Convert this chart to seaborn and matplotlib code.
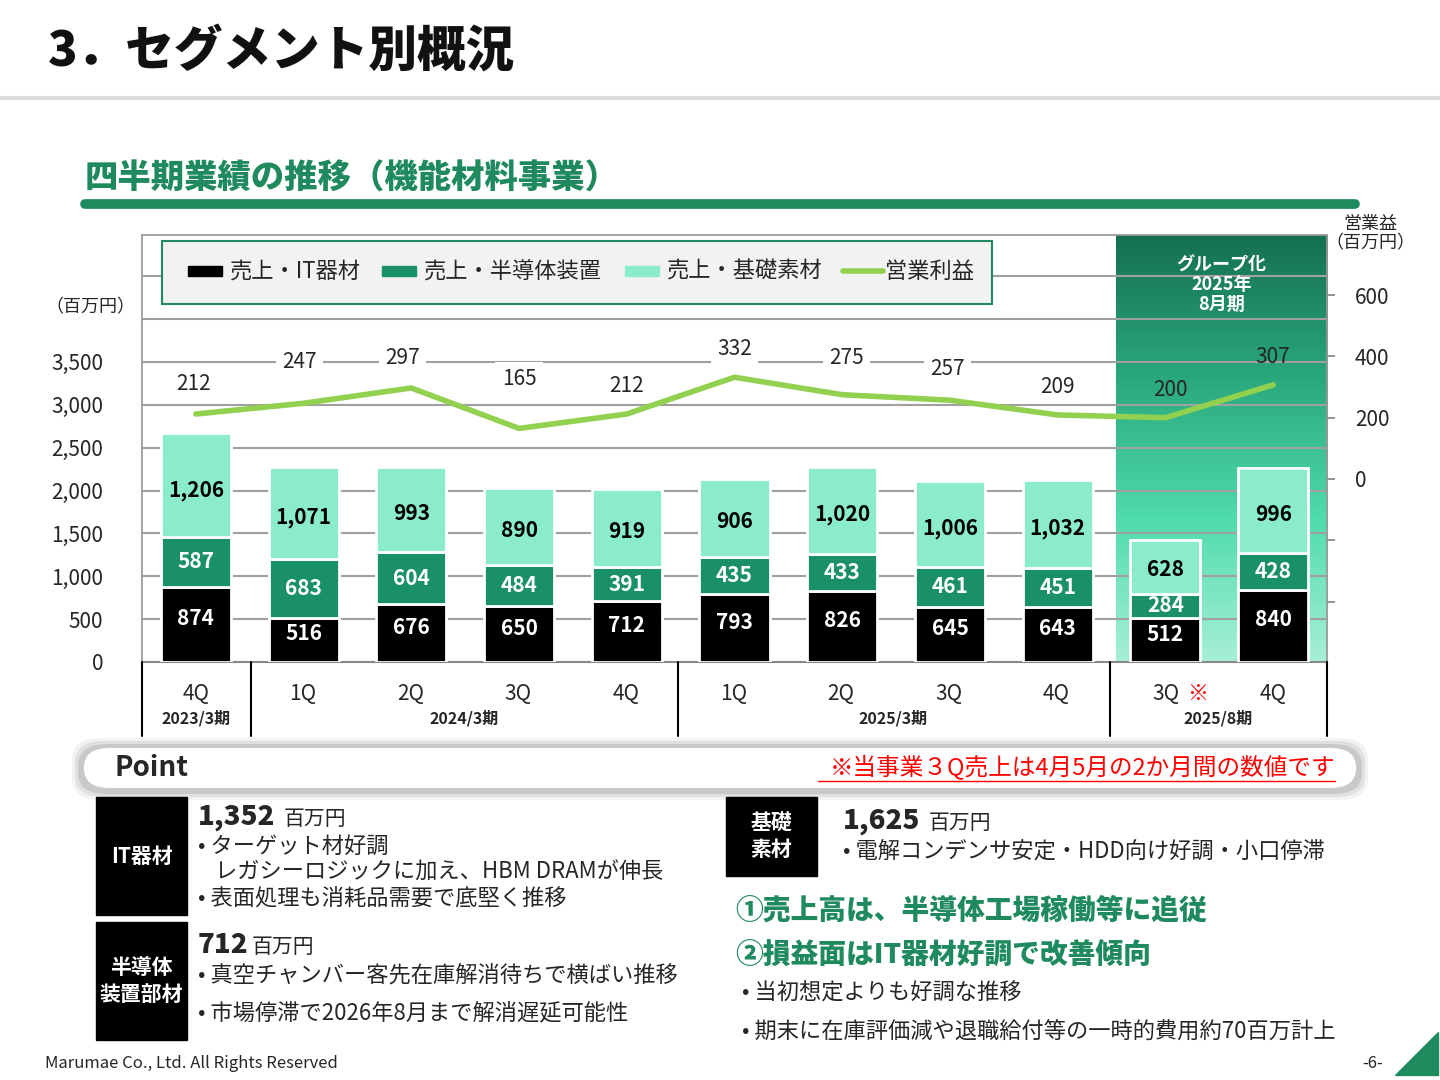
import matplotlib
matplotlib.use("Agg")
import matplotlib.pyplot as plt
import seaborn as sns
import numpy as np
import pandas as pd
from matplotlib.patches import FancyBboxPatch, Rectangle, Polygon
from matplotlib.lines import Line2D
from matplotlib.colors import LinearSegmentedColormap

sns.set_theme(style="white")
plt.rcParams['font.family'] = ['Noto Sans CJK JP', 'DejaVu Sans']

quarters = ["4Q", "1Q", "2Q", "3Q", "4Q", "1Q", "2Q", "3Q", "4Q", "3Q", "4Q"]
it_sales = [874, 516, 676, 650, 712, 793, 826, 645, 643, 512, 840]
semi_sales = [587, 683, 604, 484, 391, 435, 433, 461, 451, 284, 428]
base_sales = [1206, 1071, 993, 890, 919, 906, 1020, 1006, 1032, 628, 996]
op_profit = [212, 247, 297, 165, 212, 332, 275, 257, 209, 200, 307]
periods = ["2023/3期", "2024/3期", "2025/3期", "2025/8期"]

C_IT = "#000000"
C_SEMI = "#1a9068"
C_BASE = "#8aecca"
C_LINE = "#92d050"
DG = "#1f8a5e"

fig = plt.figure(figsize=(14.4, 10.8), dpi=100)
W, H = 1440, 1080
def fx(x): return x / W
def fy(y): return 1 - y / H

fig.add_artist(Line2D([0, 1], [fy(98), fy(98)], color="#dddddd", lw=3))
fig.text(fx(48), fy(52), "3．セグメント別概況", fontsize=35, fontweight="heavy", va="center", color="#111111")
fig.text(fx(85), fy(178), "四半期業績の推移（機能材料事業）", fontsize=24, fontweight="heavy", va="center", color=DG)
fig.add_artist(Line2D([fx(85), fx(1355)], [fy(204), fy(204)], color=DG, lw=7))

ax = fig.add_axes([fx(142), fy(662), fx(1327) - fx(142), fy(235) - fy(662)])
df = pd.DataFrame({"x": np.arange(11), "it": it_sales, "semi": semi_sales, "base": base_sales})
ax.set_xlim(-0.5, 10.5)
ax.set_ylim(0, 4980)

grad = np.linspace(0, 1, 256).reshape(-1, 1)
cmap = LinearSegmentedColormap.from_list("g", ["#a8f0d6", "#4fdcae", "#2aa87c", "#157050"])
ax.imshow(grad, extent=[8.54, 10.5, 0, 4980], origin="lower", aspect="auto", cmap=cmap, zorder=0)

for v in range(500, 5000, 500):
    ax.axhline(v, color="#a0a0a0", lw=1.5, zorder=1)

w = 0.65
sns.barplot(data=df, x="x", y="it", color=C_IT, width=w, ax=ax, zorder=3, edgecolor="white", linewidth=2, native_scale=True)
ax.bar(df.x, df.semi, bottom=df.it, width=w, color=C_SEMI, edgecolor="white", linewidth=2, zorder=3)
ax.bar(df.x, df.base, bottom=df.it + df.semi, width=w, color=C_BASE, edgecolor="white", linewidth=2, zorder=3)
ax.set_xlim(-0.5, 10.5)
for i in range(11):
    ax.text(i, it_sales[i] / 2 + 70, f"{it_sales[i]:,}", color="white", ha="center", va="center", fontsize=15, fontweight="bold", zorder=5)
    ax.text(i, it_sales[i] + semi_sales[i] / 2, f"{semi_sales[i]:,}", color="white", ha="center", va="center", fontsize=15, fontweight="bold", zorder=5)
    ax.text(i, it_sales[i] + semi_sales[i] + base_sales[i] * 0.45, f"{base_sales[i]:,}", color="black", ha="center", va="center", fontsize=15, fontweight="bold", zorder=5)

ax.set_yticks(range(0, 3501, 500))
ax.set_yticklabels([f"{v:,}" for v in range(0, 3501, 500)], fontsize=15)
ax.set_xticks(np.arange(-0.5, 10.6, 1))
ax.set_xticklabels([])
ax.tick_params(axis="x", length=6, color="#888888", direction="out")
ax.tick_params(axis="y", length=0, pad=28)
ax.set_xlabel(""); ax.set_ylabel("")
for s in ["top", "right", "left"]:
    ax.spines[s].set_color("#999999")
ax.spines["bottom"].set_color("#888888")
ax.spines["bottom"].set_linewidth(1.5)

ax2 = ax.twinx()
ax2.set_ylim(-597, 796)
sns.lineplot(x=np.arange(11), y=op_profit, ax=ax2, color=C_LINE, lw=4, zorder=6)
label_px = [384, 362, 358, 379, 386, 349, 358, 369, 387, 390, 357]
label_dx = [-0.02, -0.04, -0.08, 0, 0, 0, 0.04, -0.02, 0, 0.05, 0]
for i, v in enumerate(op_profit):
    yv = (479 - label_px[i]) / 0.3067
    ax2.text(i + label_dx[i], yv, str(v), ha="center", va="center", fontsize=15, zorder=7,
             bbox=dict(boxstyle="square,pad=0.3", fc="white", ec="none") if i < 9 else None)
ax2.set_yticks(range(-400, 601, 200))
ax2.set_yticklabels(["", ""] + [str(v) for v in range(0, 601, 200)], fontsize=15)
ax2.tick_params(axis="y", length=6, color="#888888", pad=14)
for s in ax2.spines.values():
    s.set_visible(False)

ax.text(9.52, 4400, "グループ化\n2025年\n8月期", color="white", ha="center", va="center", fontsize=13, fontweight="bold", linespacing=1.05, zorder=8)

fig.patches.append(Rectangle((fx(162), fy(304)), fx(992) - fx(162), fy(241) - fy(304), transform=fig.transFigure, fc="#f2f2f2", ec=DG, lw=1.5, zorder=10))
leg = [(188, C_IT, "売上・IT器材", "bar"), (382, C_SEMI, "売上・半導体装置", "bar"), (625, C_BASE, "売上・基礎素材", "bar"), (843, C_LINE, "営業利益", "line")]
for x, c, t, k in leg:
    if k == "bar":
        fig.patches.append(Rectangle((fx(x), fy(276)), fx(34), fy(266) - fy(276), transform=fig.transFigure, color=c, zorder=11))
    else:
        fig.add_artist(Line2D([fx(x), fx(x + 40)], [fy(271), fy(271)], color=c, lw=4, zorder=11))
    fig.text(fx(x + 42), fy(271), t, fontsize=16, va="center", zorder=12)

fig.text(fx(90), fy(307), "（百万円）", fontsize=13, va="center", ha="center")
fig.text(fx(1370), fy(234), "営業益\n（百万円）", fontsize=13, va="center", ha="center", linespacing=1.1)

xs = [196, 303, 411, 518, 626, 734, 841, 949, 1056, 1166, 1273]
for x, q in zip(xs, quarters):
    fig.text(fx(x), fy(694), q, fontsize=15, ha="center", va="center")
fig.text(fx(1198), fy(694), "※", fontsize=15, ha="center", va="center", color="red")
for x, p in zip([196, 464, 893, 1218], periods):
    fig.text(fx(x), fy(718), p, fontsize=11.5, ha="center", va="center", fontweight="bold")
for x in [142, 251, 678, 1110, 1327]:
    fig.add_artist(Line2D([fx(x), fx(x)], [fy(662), fy(736)], color="black", lw=1.5))

# Point band with soft shadow
for k, a in enumerate([0.05, 0.07, 0.1]):
    pad = 8 - 3 * k
    fig.patches.append(FancyBboxPatch((fx(80 - pad), fy(792 + pad)), fx(1280 + 2 * pad), fy(746 - pad) - fy(792 + pad),
                                      boxstyle="round,pad=0,rounding_size=0.02", transform=fig.transFigure,
                                      fc="black", ec="none", alpha=a, zorder=1))
fig.patches.append(FancyBboxPatch((fx(84), fy(788)), fx(1272), fy(748) - fy(788), boxstyle="round,pad=0,rounding_size=0.018",
                                  transform=fig.transFigure, fc="white", ec="none", zorder=2))
fig.text(fx(115), fy(768), "Point", fontsize=20, fontweight="bold", va="center", zorder=3)
fig.text(fx(1335), fy(768), "※当事業３Q売上は4月5月の2か月間の数値です", fontsize=17, color="red", va="center", ha="right", zorder=3)
fig.add_artist(Line2D([fx(818), fx(1335)], [fy(781), fy(781)], color="red", lw=1, zorder=3))

def box(x0, y0, x1, y1, t):
    fig.patches.append(Rectangle((fx(x0), fy(y1)), fx(x1 - x0), fy(y0) - fy(y1), transform=fig.transFigure, color="black"))
    fig.text(fx((x0 + x1) / 2), fy((y0 + y1) / 2), t, color="white", fontsize=15, fontweight="bold", ha="center", va="center", linespacing=1.3)

box(96, 797, 187, 915, "IT器材")
box(96, 922, 187, 1040, "半導体\n装置部材")
box(726, 797, 817, 876, "基礎\n素材")

def amount(x, y, num):
    fig.text(fx(x), fy(y), num, fontsize=20, fontweight="heavy", va="center")
    fig.text(fx(x + (86 if len(num) > 3 else 54)), fy(y + 2), "百万円", fontsize=15, va="center")

amount(198, 817, "1,352")
fig.text(fx(198), fy(846), "• ターゲット材好調", fontsize=16, va="center")
fig.text(fx(215), fy(872), "レガシーロジックに加え、HBM DRAMが伸長", fontsize=16, va="center")
fig.text(fx(198), fy(899), "• 表面処理も消耗品需要で底堅く推移", fontsize=16, va="center")
amount(198, 945, "712")
fig.text(fx(198), fy(975), "• 真空チャンバー客先在庫解消待ちで横ばい推移", fontsize=16, va="center")
fig.text(fx(198), fy(1013), "• 市場停滞で2026年8月まで解消遅延可能性", fontsize=16, va="center")
amount(843, 821, "1,625")
fig.text(fx(843), fy(851), "• 電解コンデンサ安定・HDD向け好調・小口停滞", fontsize=16, va="center")
fig.text(fx(735), fy(910), "①売上高は、半導体工場稼働等に追従", fontsize=20, fontweight="heavy", color=DG, va="center")
fig.text(fx(735), fy(955), "②損益面はIT器材好調で改善傾向", fontsize=20, fontweight="heavy", color=DG, va="center")
fig.text(fx(742), fy(993), "• 当初想定よりも好調な推移", fontsize=16, va="center")
fig.text(fx(742), fy(1032), "• 期末に在庫評価減や退職給付等の一時的費用約70百万計上", fontsize=16, va="center")

fig.text(fx(45), fy(1064), "Marumae Co., Ltd. All Rights Reserved", fontsize=12, va="center")
fig.text(fx(1383), fy(1064), "-6-", fontsize=12, va="center", ha="right")
fig.patches.append(Polygon([(fx(1395), fy(1075)), (fx(1438), fy(1075)), (fx(1438), fy(1032))], closed=True, transform=fig.transFigure, color=DG))

fig.savefig("out.png", dpi=100)
